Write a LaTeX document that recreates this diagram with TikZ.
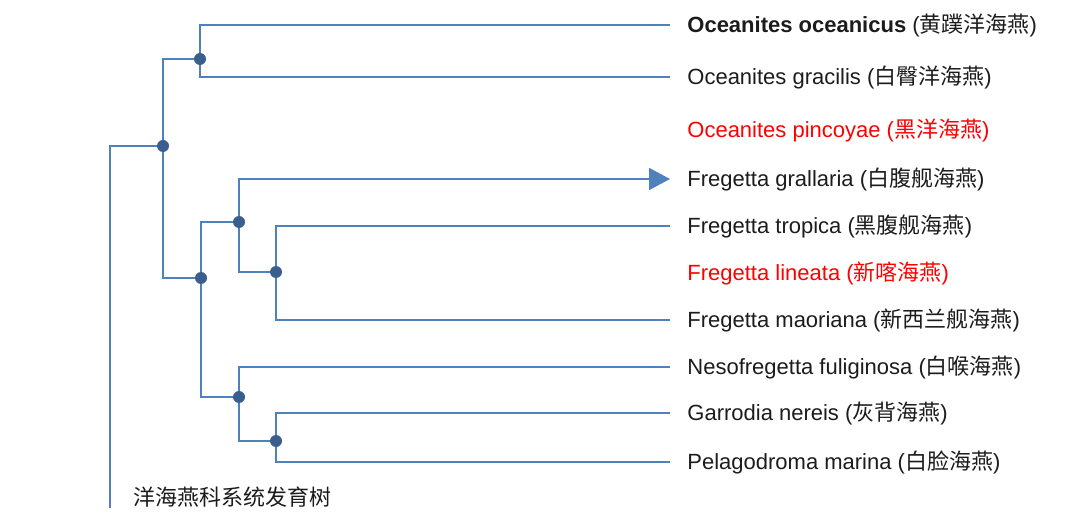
\documentclass[tikz,border=0pt]{standalone}
\usepackage{fontspec}
\setmainfont{Liberation Sans}
\newfontfamily\cjk{Noto Sans CJK SC}
\usetikzlibrary{arrows.meta}
\definecolor{branchblue}{HTML}{4F81BD}
\definecolor{dotblue}{HTML}{3A5F8E}
\definecolor{txtgray}{HTML}{1C1C1C}
\definecolor{txtred}{HTML}{FF0000}
\tikzset{
	branch/.style = {draw=branchblue, line width=0.9pt},
	split/.style = {circle, fill=dotblue, minimum size=6pt, inner sep=0pt},
	species/.style = {anchor=west, inner xsep=8.5pt, inner ysep=0pt, text height=9pt, text depth=1.2pt, font=\fontsize{11}{13}\selectfont, text=txtgray},
	lost/.style = {species, text=txtred},
	tip/.style = {branch, -{Triangle[length=10.5pt, width=11pt]}}
}
\newcommand{\zh}[1]{{\cjk #1}}

\begin{document}
\begin{tikzpicture}[x=0.5pt, y=-0.5pt]
		\useasboundingbox (0,0) rectangle (1080,523);
		%物种名
		\node (oceanicus) [species] at (670,25) {\textbf{Oceanites oceanicus} (\zh{黄蹼洋海燕})};
		\node (gracilis) [species] at (670,77) {Oceanites gracilis (\zh{白臀洋海燕})};
		\node (pincoyae) [lost] at (670,130) {Oceanites pincoyae (\zh{黑洋海燕})};
		\node (grallaria) [species] at (670,179) {Fregetta grallaria (\zh{白腹舰海燕})};
		\node (tropica) [species] at (670,226) {Fregetta tropica (\zh{黑腹舰海燕})};
		\node (lineata) [lost] at (670,273) {Fregetta lineata (\zh{新喀海燕})};
		\node (maoriana) [species] at (670,320) {Fregetta maoriana (\zh{新西兰舰海燕})};
		\node (fuliginosa) [species] at (670,367) {Nesofregetta fuliginosa (\zh{白喉海燕})};
		\node (nereis) [species] at (670,413) {Garrodia nereis (\zh{灰背海燕})};
		\node (marina) [species] at (670,462) {Pelagodroma marina (\zh{白脸海燕})};
		\node (title) [species, inner xsep=0pt, font=\fontsize{11}{13}\selectfont\cjk] at (133,498) {洋海燕科系统发育树};

		%分支点
		\coordinate (root) at (110,508);
		\node (oceanites) [split] at (163,146) {};
		\node (oceanpair) [split] at (200,59) {};
		\node (rest) [split] at (201,278) {};
		\node (fregetta) [split] at (239,222) {};
		\node (fregpair) [split] at (276,272) {};
		\node (others) [split] at (239,397) {};
		\node (othpair) [split] at (276,441) {};

		%连接
		\path [branch] (root) |- (oceanites);
		\path [branch] (oceanites) |- (oceanpair);
		\path [branch] (oceanites) |- (rest);
		\path [branch] (oceanpair) |- (oceanicus.west);
		\path [branch] (oceanpair) |- (gracilis.west);
		\path [branch] (rest) |- (fregetta);
		\path [branch] (rest) |- (others);
		\path [tip] (fregetta) |- (grallaria.west);
		\path [branch] (fregetta) |- (fregpair);
		\path [branch] (fregpair) |- (tropica.west);
		\path [branch] (fregpair) |- (maoriana.west);
		\path [branch] (others) |- (fuliginosa.west);
		\path [branch] (others) |- (othpair);
		\path [branch] (othpair) |- (nereis.west);
		\path [branch] (othpair) |- (marina.west);
\end{tikzpicture}
\end{document}
